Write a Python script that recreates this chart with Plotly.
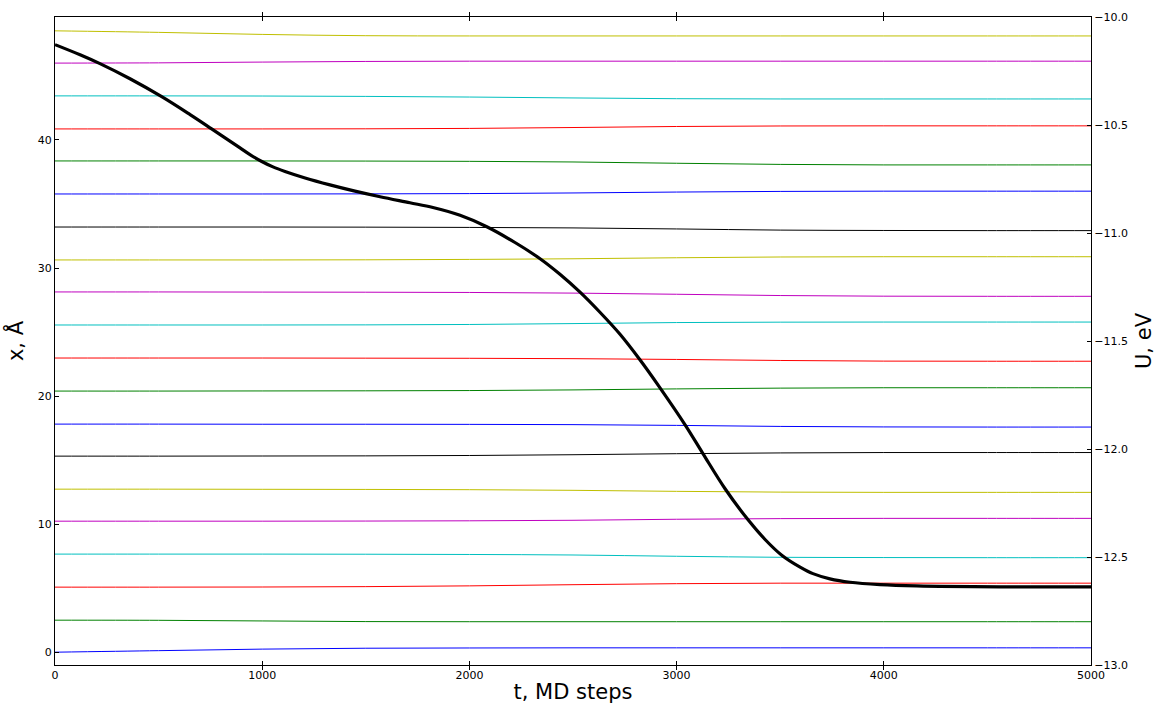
import plotly.graph_objects as go

# MD time samples (steps)
t_atoms = [0, 500, 1000, 1500, 2000, 2500, 3000, 3500, 4000, 4500, 5000]

# Atom positions x (Angstrom) at the sample times, bottom to top
atom_positions = [
    [0.00, 0.12, 0.24, 0.31, 0.33, 0.34, 0.34, 0.34, 0.34, 0.34, 0.34],
    [2.50, 2.49, 2.44, 2.39, 2.38, 2.38, 2.38, 2.38, 2.38, 2.38, 2.38],
    [5.08, 5.08, 5.09, 5.12, 5.18, 5.27, 5.35, 5.39, 5.39, 5.39, 5.39],
    [7.66, 7.66, 7.66, 7.65, 7.63, 7.59, 7.49, 7.41, 7.39, 7.38, 7.38],
    [10.23, 10.23, 10.23, 10.24, 10.26, 10.30, 10.38, 10.43, 10.45, 10.45, 10.45],
    [12.73, 12.73, 12.72, 12.71, 12.69, 12.64, 12.56, 12.50, 12.48, 12.48, 12.48],
    [15.31, 15.31, 15.32, 15.33, 15.36, 15.42, 15.50, 15.56, 15.59, 15.59, 15.59],
    [17.81, 17.81, 17.80, 17.80, 17.79, 17.77, 17.71, 17.63, 17.59, 17.58, 17.58],
    [20.39, 20.39, 20.40, 20.41, 20.43, 20.48, 20.56, 20.62, 20.65, 20.65, 20.65],
    [22.97, 22.97, 22.97, 22.96, 22.95, 22.92, 22.86, 22.78, 22.73, 22.72, 22.72],
    [25.55, 25.55, 25.55, 25.56, 25.59, 25.66, 25.74, 25.77, 25.78, 25.78, 25.78],
    [28.13, 28.13, 28.12, 28.11, 28.09, 28.04, 27.95, 27.85, 27.80, 27.79, 27.79],
    [30.63, 30.63, 30.63, 30.64, 30.67, 30.72, 30.80, 30.86, 30.88, 30.88, 30.88],
    [33.20, 33.20, 33.20, 33.19, 33.17, 33.13, 33.05, 32.96, 32.93, 32.92, 32.92],
    [35.78, 35.78, 35.78, 35.79, 35.81, 35.86, 35.93, 35.98, 36.00, 36.00, 36.00],
    [38.36, 38.36, 38.36, 38.35, 38.33, 38.28, 38.18, 38.09, 38.05, 38.05, 38.05],
    [40.86, 40.86, 40.86, 40.87, 40.90, 40.97, 41.05, 41.09, 41.10, 41.10, 41.10],
    [43.44, 43.44, 43.43, 43.40, 43.35, 43.28, 43.22, 43.20, 43.20, 43.20, 43.20],
    [46.00, 46.02, 46.08, 46.13, 46.15, 46.15, 46.15, 46.15, 46.15, 46.15, 46.15],
    [48.52, 48.40, 48.24, 48.14, 48.12, 48.12, 48.12, 48.12, 48.12, 48.12, 48.12],
]

# Potential energy U (eV) vs time
t_energy = [0, 121, 217, 362, 515, 652, 756, 893, 941, 998, 1052, 1110, 1207,
            1327, 1448, 1569, 1713, 1824, 1955, 2084, 2220, 2341, 2437, 2534,
            2630, 2727, 2823, 2920, 3041, 3127, 3234, 3345, 3427, 3509, 3596,
            3658, 3740, 3837, 3982, 4159, 4561, 5000]
energy = [-10.128, -10.175, -10.216, -10.286, -10.369, -10.452, -10.518, -10.606,
          -10.637, -10.669, -10.694, -10.715, -10.745, -10.777, -10.806, -10.832,
          -10.860, -10.882, -10.918, -10.971, -11.044, -11.119, -11.191, -11.274,
          -11.367, -11.469, -11.587, -11.717, -11.888, -12.021, -12.184, -12.328,
          -12.419, -12.493, -12.547, -12.577, -12.601, -12.617, -12.628, -12.634,
          -12.638, -12.638]

colors = ["#0000ff", "#008000", "#ff0000", "#00bfbf", "#bf00bf", "#bfbf00", "#000000"]

x_ticks = [0, 1000, 2000, 3000, 4000, 5000]
x_ticktext = ["0", "1000", "2000", "3000", "4000", "5000"]
y_ticks = [0, 10, 20, 30, 40]
u_ticks = [-13.0, -12.5, -12.0, -11.5, -11.0, -10.5, -10.0]
u_ticktext = ["−13.0", "−12.5", "−12.0", "−11.5", "−11.0", "−10.5", "−10.0"]

fig = go.Figure()
for i, pos in enumerate(atom_positions):
    fig.add_trace(go.Scatter(x=t_atoms, y=pos, mode="lines", line_shape="spline",
                             line=dict(color=colors[i % 7], width=1), showlegend=False,
                             hoverinfo="skip"))

fig.add_trace(go.Scatter(x=t_energy, y=energy, mode="lines", line_shape="spline",
                         line=dict(color="black", width=3.2, smoothing=1.0),
                         yaxis="y2", showlegend=False))

font = "DejaVu Sans, Arial, sans-serif"
fig.update_layout(
    width=1156, height=706,
    margin=dict(l=55, r=65, t=17, b=41),
    paper_bgcolor="white", plot_bgcolor="white",
    font=dict(family=font, color="black", size=11),
    xaxis=dict(range=[0, 5000], tickvals=x_ticks, ticktext=x_ticktext,
               ticks="inside", ticklen=4, tickcolor="black", mirror="allticks",
               showline=True, linecolor="black", linewidth=1, showgrid=False, zeroline=False,
               title=dict(text="t, MD steps", font=dict(size=21), standoff=3),
               automargin=False, tickfont=dict(size=11)),
    yaxis=dict(range=[-1.0, 49.6], tickvals=y_ticks,
               ticks="inside", ticklen=4, tickcolor="black",
               showline=True, linecolor="black", linewidth=1, showgrid=False, zeroline=False,
               title=dict(text="x, Å", font=dict(size=21), standoff=8),
               automargin=False, tickfont=dict(size=11)),
    yaxis2=dict(range=[-13.0, -10.0], tickvals=u_ticks, ticktext=u_ticktext,
                overlaying="y", side="right",
                ticks="inside", ticklen=4, tickcolor="black",
                showline=True, linecolor="black", linewidth=1, showgrid=False, zeroline=False,
                title=dict(text="U, eV", font=dict(size=21), standoff=10),
                automargin=False, tickfont=dict(size=11)),
)

fig.write_html("out.html")
